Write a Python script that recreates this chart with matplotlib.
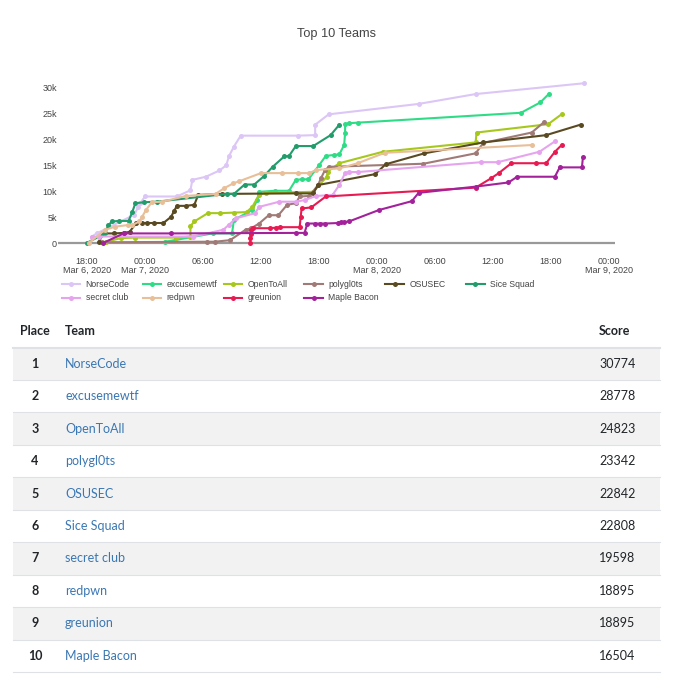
import matplotlib
matplotlib.use("Agg")
import matplotlib.pyplot as plt
from matplotlib.lines import Line2D
from matplotlib.patches import Rectangle
import pandas as pd

BASE = pd.Timestamp("2020-03-06 00:00")

teams = ["NorseCode", "excusemewtf", "OpenToAll", "polygl0ts", "OSUSEC",
         "Sice Squad", "secret club", "redpwn", "greunion", "Maple Bacon"]
final_scores = [30774, 28778, 24823, 23342, 22842, 22808, 19598, 18895, 18895, 16504]
colors = ["#dcc6f6", "#2fdc86", "#a6c81c", "#a07a76", "#5a4a22",
          "#239c6c", "#e6a4ee", "#e8bf98", "#e81a52", "#a3229c"]

# hours since 2020-03-06 00:00, scores in thousands
norse_h = [18.5, 19.0, 22.9, 23.3, 23.5, 24.0, 27.3, 28.7, 28.9, 30.3, 31.7, 32.4, 32.7, 33.2, 33.9, 39.8, 41.6, 41.6, 43.0, 52.3, 58.2, 69.4]
norse_v = [1.3, 1.9, 5.5, 7.0, 7.7, 9.0, 9.0, 10.2, 12.2, 12.8, 14.0, 15.0, 16.8, 18.6, 20.7, 20.7, 20.8, 22.8, 24.8, 26.8, 28.7, 30.774]

excuse_h = [26.1, 31.0, 33.0, 33.2, 35.1, 35.6, 35.8, 37.4, 38.9, 39.6, 40.2, 40.9, 42.0, 42.7, 43.6, 44.1, 44.6, 44.7, 44.7, 45.1, 46.0, 62.9, 64.9, 65.8]
excuse_v = [0.3, 1.9, 1.9, 4.5, 6.4, 8.3, 9.9, 10.1, 10.1, 12.2, 12.3, 12.3, 15.0, 16.8, 17.0, 17.1, 18.9, 21.2, 22.9, 23.1, 23.2, 25.1, 27.1, 28.778]

opentoall_h = [20.0, 21.5, 23.0, 27.2, 28.7, 28.7, 29.1, 30.5, 31.8, 33.2, 34.5, 35.1, 35.8, 36.5, 41.4, 42.8, 42.9, 44.1, 48.6, 58.2, 58.3, 65.7, 67.1]
opentoall_v = [0.3, 1.0, 1.1, 1.1, 1.3, 3.3, 4.2, 5.8, 5.8, 5.9, 6.0, 7.0, 9.3, 9.7, 9.9, 12.8, 13.8, 15.4, 17.6, 19.4, 21.3, 22.9, 24.823]

poly_h = [19.5, 30.4, 31.2, 32.8, 34.4, 35.0, 35.8, 36.8, 37.8, 38.7, 39.6, 40.0, 41.0, 41.9, 42.2, 42.6, 43.0, 52.8, 58.2, 59.0, 64.0, 65.3]
poly_v = [0.2, 0.3, 0.3, 0.6, 2.6, 2.9, 3.8, 5.4, 5.4, 7.4, 7.7, 9.0, 9.1, 11.2, 12.5, 14.0, 14.7, 15.3, 17.3, 19.3, 21.3, 23.342]

osusec_h = [19.2, 19.7, 20.8, 21.8, 22.4, 23.1, 23.7, 24.2, 24.9, 25.9, 26.7, 27.0, 27.3, 28.2, 29.1, 29.5, 32.0, 39.6, 41.4, 41.9, 47.8, 48.9, 52.9, 59.0, 65.5, 69.1]
osusec_v = [0.2, 1.9, 1.9, 2.0, 2.2, 3.9, 3.9, 3.9, 3.9, 3.9, 5.1, 6.2, 7.2, 7.2, 7.4, 9.3, 9.5, 9.6, 9.6, 11.2, 13.3, 15.2, 17.3, 19.4, 20.8, 22.842]

sice_h = [18.0, 19.9, 20.2, 20.6, 21.3, 22.3, 22.7, 23.0, 23.9, 25.2, 32.5, 33.2, 34.3, 35.3, 36.3, 37.2, 38.4, 38.9, 39.6, 41.4, 43.2, 44.1]
sice_v = [0.1, 1.9, 3.5, 4.2, 4.3, 4.3, 6.1, 7.7, 7.9, 8.0, 9.5, 9.5, 11.3, 11.3, 12.9, 14.7, 16.7, 16.8, 18.7, 18.7, 20.8, 22.808]

secret_h = [18.5, 19.2, 29.0, 32.1, 32.7, 33.4, 35.4, 35.8, 37.9, 39.6, 40.5, 41.7, 43.4, 44.1, 44.7, 45.1, 46.0, 58.8, 60.5, 64.8, 66.4]
secret_v = [1.2, 1.3, 1.3, 2.6, 3.6, 4.8, 5.8, 7.0, 8.0, 8.0, 8.3, 9.1, 9.3, 11.2, 13.5, 13.7, 13.7, 15.6, 15.6, 17.6, 19.598]

redpwn_h = [18.2, 19.9, 20.9, 22.2, 22.7, 23.4, 23.7, 24.1, 24.7, 25.8, 28.2, 31.3, 32.2, 33.1, 33.7, 36.0, 38.2, 39.8, 41.0, 41.7, 44.1, 46.0, 48.8, 64.0]
redpwn_v = [0.1, 2.6, 3.2, 3.5, 3.5, 4.2, 5.1, 6.4, 7.9, 8.0, 9.1, 9.5, 10.6, 11.5, 11.9, 13.5, 13.5, 13.5, 13.5, 14.1, 14.4, 15.4, 17.4, 18.895]

greunion_h = [34.9, 34.9, 34.95, 35.0, 35.2, 36.9, 37.5, 38.0, 40.0, 40.1, 40.2, 41.2, 42.7, 58.2, 59.8, 60.6, 61.9, 64.4, 65.5, 66.4, 67.1]
greunion_v = [0.1, 1.0, 1.8, 2.6, 2.9, 2.9, 3.0, 3.1, 3.1, 5.0, 6.7, 6.9, 9.0, 10.7, 12.5, 13.5, 15.4, 15.4, 15.4, 17.6, 18.895]

maple_h = [19.7, 21.8, 26.7, 39.6, 40.5, 40.8, 41.6, 42.1, 42.6, 44.0, 44.3, 44.6, 45.1, 48.2, 51.6, 52.3, 58.2, 61.6, 62.5, 66.4, 66.9, 69.2, 69.3]
maple_v = [0.1, 1.9, 1.9, 2.0, 2.0, 3.8, 3.8, 3.8, 3.8, 3.9, 4.0, 4.1, 4.2, 6.4, 8.1, 9.7, 10.9, 11.7, 12.8, 12.8, 14.6, 14.6, 16.504]

series_h = [norse_h, excuse_h, opentoall_h, poly_h, osusec_h, sice_h, secret_h, redpwn_h, greunion_h, maple_h]
series_v = [norse_v, excuse_v, opentoall_v, poly_v, osusec_v, sice_v, secret_v, redpwn_v, greunion_v, maple_v]

W, H = 680, 675
fig = plt.figure(figsize=(W / 100, H / 100), dpi=100)
fig.patch.set_facecolor("white")

def fx(px):
    return px / W

def fy(py):
    return 1 - py / H

# axes placement in pixels
ax_left, ax_right = 58.3, 615.0
y0_px, y30_px = 243.3, 87.3
ymin, ymax = -700, 31600
ppu = (y0_px - y30_px) / 30000
ax_bottom = y0_px + (0 - ymin) * ppu
ax_top = y0_px - ymax * ppu
ax = fig.add_axes([fx(ax_left), fy(ax_bottom), fx(ax_right - ax_left), (ax_bottom - ax_top) / H])

def to_time(hours):
    return BASE + pd.to_timedelta(pd.Series(hours), unit="h")

for name, hs, vs, c in zip(teams, series_h, series_v, colors):
    t = to_time(hs)
    ax.plot(t, [v * 1000 for v in vs], color=c, lw=1.5, marker="o", ms=3.6,
            markeredgewidth=0, solid_joinstyle="round", label=name, zorder=3)

x_lo = BASE + pd.Timedelta(hours=15.03)
x_hi = BASE + pd.Timedelta(hours=72.62)
ax.set_xlim(x_lo, x_hi)
ax.set_ylim(ymin, ymax)
ax.axhline(0, color="#999999", lw=1.6, zorder=1)
for s in ax.spines.values():
    s.set_visible(False)

yt = [0, 5000, 10000, 15000, 20000, 25000, 30000]
ax.set_yticks(yt)
ax.set_yticklabels(["0", "5k", "10k", "15k", "20k", "25k", "30k"])

xt = [BASE + pd.Timedelta(hours=h) for h in [18, 24, 30, 36, 42, 48, 54, 60, 66, 72]]
xl = ["18:00\nMar 6, 2020", "00:00\nMar 7, 2020", "06:00", "12:00", "18:00",
      "00:00\nMar 8, 2020", "06:00", "12:00", "18:00", "00:00\nMar 9, 2020"]
ax.set_xticks(xt)
ax.set_xticklabels(xl, linespacing=1.05, va="top")
ax.tick_params(axis="both", length=0, labelsize=6.5, colors="#444444")
ax.tick_params(axis="x", pad=7)
ax.tick_params(axis="y", pad=1)
for lab in ax.get_xticklabels() + ax.get_yticklabels():
    lab.set_fontfamily("Liberation Sans")

fig.text(fx(336.5), fy(33.5), "Top 10 Teams", ha="center", va="center",
         fontsize=9.2, color="#444444", family="Liberation Sans")

# legend (plotly horizontal legend, row-major)
for i, (name, c) in enumerate(zip(teams, colors)):
    col, row = i % 6, i // 6
    x0 = 61.7 + col * 80.9
    yy = 284.3 + row * 13.4
    fig.add_artist(Line2D([fx(x0), fx(x0 + 18.5)], [fy(yy), fy(yy)], color=c, lw=1.5,
                          transform=fig.transFigure))
    fig.add_artist(Line2D([fx(x0 + 9.25)], [fy(yy)], color=c, marker="o", ms=3.6,
                          markeredgewidth=0, transform=fig.transFigure))
    fig.text(fx(x0 + 24), fy(yy), name, ha="left", va="center", fontsize=6.2,
             color="#444444", family="Liberation Sans")

# table
tx0, tx1 = 13, 660
fig.text(fx(35), fy(331), "Place", ha="center", va="center", fontsize=9,
         family="Lato", weight="bold", color="#212529")
fig.text(fx(65), fy(331), "Team", ha="left", va="center", fontsize=9,
         family="Lato", weight="bold", color="#212529")
fig.text(fx(599), fy(331), "Score", ha="left", va="center", fontsize=9,
         family="Lato", weight="bold", color="#212529")
row_top = 347.5
row_h = 32.45
fig.add_artist(Line2D([fx(tx0), fx(tx1)], [fy(row_top), fy(row_top)], color="#dee2e6",
                      lw=1.5, transform=fig.transFigure))
for i, (name, sc) in enumerate(zip(teams, final_scores)):
    top = row_top + i * row_h
    if i % 2 == 0:
        fig.add_artist(Rectangle((fx(tx0), fy(top + row_h)), fx(tx1 - tx0), row_h / H,
                                 transform=fig.transFigure, facecolor="#f2f2f2",
                                 edgecolor="none", zorder=0))
    fig.add_artist(Line2D([fx(tx0), fx(tx1)], [fy(top + row_h), fy(top + row_h)],
                          color="#dee2e6", lw=0.8, transform=fig.transFigure))
    cy = top + row_h / 2
    fig.text(fx(35), fy(cy), str(i + 1), ha="center", va="center", fontsize=9,
             family="Lato", weight="bold", color="#212529")
    fig.text(fx(65), fy(cy), name, ha="left", va="center", fontsize=9,
             family="Lato", color="#3a77b3")
    fig.text(fx(599), fy(cy), str(sc), ha="left", va="center", fontsize=9,
             family="Lato", color="#212529")

fig.savefig("out.png", dpi=100, facecolor="white")
